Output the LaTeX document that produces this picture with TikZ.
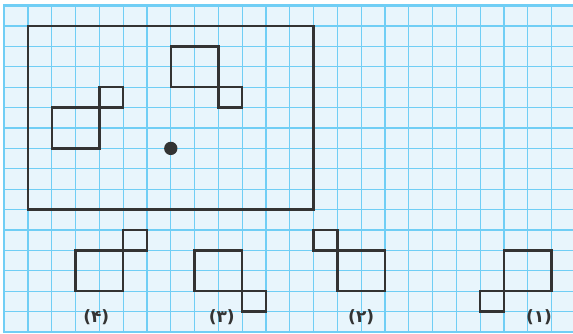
\documentclass[tikz,border=0pt]{standalone}
\usepackage{fontspec}
\newfontfamily\persianfont{DejaVu Sans}
\definecolor{gridblue}{RGB}{112,206,245}
\definecolor{paperblue}{RGB}{232,245,252}
\definecolor{inkgray}{RGB}{51,51,51}

\begin{document}
\begin{tikzpicture}[x=0.714cm, y=-0.612cm,
  gridline/.style={draw=gridblue, line width=1pt},
  edgeline/.style={draw=gridblue, line width=2.2pt},
  figline/.style={draw=inkgray, line width=2.1pt},
  choice/.style={font=\persianfont\bfseries\fontsize{14.5}{14.5}\selectfont,
    text=inkgray, inner sep=0pt}
]
\useasboundingbox (-1.176,-1.275) rectangle (22.9,15.05);

% squared paper
\fill[paperblue] (-1,-1) rectangle (22.9,15.05);
\foreach \c in {0,...,22}
  \draw[gridline] (\c,-1) -- (\c,15.05);
\foreach \r in {0,...,15}
  \draw[gridline] (-1,\r) -- (22.9,\r);
\draw[edgeline] (-1,15.05) -- (-1,-1) -- (22.9,-1);

% main frame with the two figures and the centre
\draw[figline] (0,0) rectangle (12,9);
\draw[figline] (6,1) rectangle (8,3) (8,3) rectangle (9,4);
\draw[figline] (1,4) rectangle (3,6) (3,3) rectangle (4,4);
\fill[inkgray] (6,6) circle (0.2cm);

% answer choices
\draw[figline] (2,11) rectangle (4,13) (4,10) rectangle (5,11);
\node[choice] (opt4) at (2.87,14.26) {(۴)};

\draw[figline] (7,11) rectangle (9,13) (9,13) rectangle (10,14);
\node[choice] (opt3) at (8.14,14.26) {(۳)};

\draw[figline] (12,10) rectangle (13,11) (13,11) rectangle (15,13);
\node[choice] (opt2) at (14,14.26) {(۲)};

\draw[figline] (20,11) rectangle (22,13) (19,13) rectangle (20,14);
\node[choice] (opt1) at (21.47,14.26) {(۱)};
\end{tikzpicture}
\end{document}
